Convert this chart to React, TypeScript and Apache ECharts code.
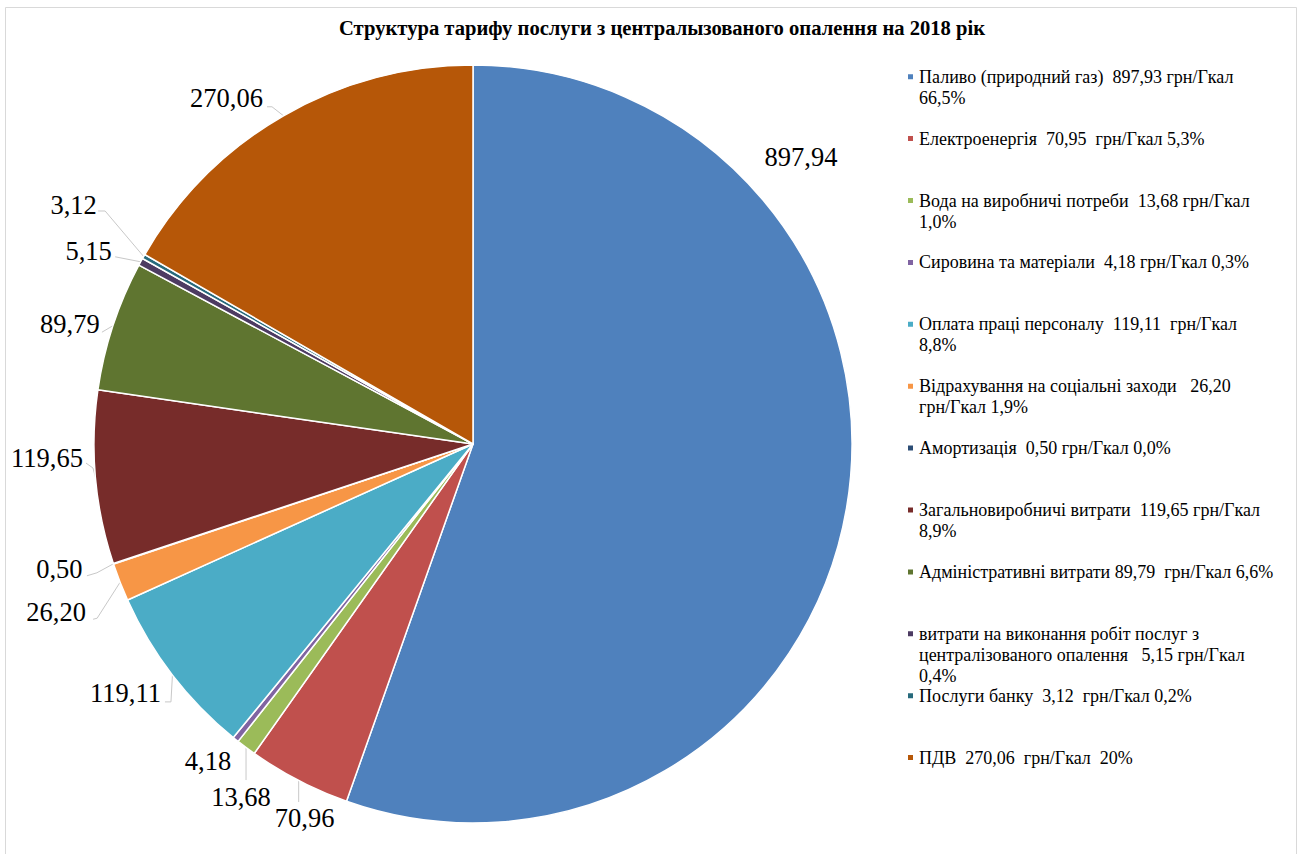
import React, { useEffect, useRef } from 'react';
import * as echarts from 'echarts';

const title = 'Структура тарифу послуги з централызованого опалення на 2018 рік';

const categories = [
  'Паливо (природний газ)',
  'Електроенергія',
  'Вода на виробничі потреби',
  'Сировина та матеріали',
  'Оплата праці персоналу',
  'Відрахування на соціальні заходи',
  'Амортизація',
  'Загальновиробничі витрати',
  'Адміністративні витрати',
  'витрати на виконання робіт послуг з централізованого опалення',
  'Послуги банку',
  'ПДВ',
];

const values = [897.94, 70.96, 13.68, 4.18, 119.11, 26.2, 0.5, 119.65, 89.79, 5.15, 3.12, 270.06];

const legendLabels = [
  'Паливо (природний газ)  897,93 грн/Гкал\n66,5%',
  'Електроенергія  70,95  грн/Гкал 5,3%',
  'Вода на виробничі потреби  13,68 грн/Гкал\n1,0%',
  'Сировина та матеріали  4,18 грн/Гкал 0,3%',
  'Оплата праці персоналу  119,11  грн/Гкал\n8,8%',
  'Відрахування на соціальні заходи   26,20\nгрн/Гкал 1,9%',
  'Амортизація  0,50 грн/Гкал 0,0%',
  'Загальновиробничі витрати  119,65 грн/Гкал\n8,9%',
  'Адміністративні витрати 89,79  грн/Гкал 6,6%',
  'витрати на виконання робіт послуг з\nцентралізованого опалення   5,15 грн/Гкал\n0,4%',
  'Послуги банку  3,12  грн/Гкал 0,2%',
  'ПДВ  270,06  грн/Гкал  20%',
];

const colors = [
  '#4F81BD', '#C0504D', '#9BBB59', '#8064A2', '#4BACC6', '#F79646',
  '#2C4D75', '#772C2A', '#5F7530', '#4D3B62', '#276A7C', '#B65708',
];

// label placement tweaks relative to the slice's outer mid point (styling only)
const labelTweaks: { dx: number; dy: number; line: number[][] }[] = [
  { dx: -45.5, dy: -351, line: [] },
  { dx: 6, dy: 37.5, line: [[-6, -16]] },
  { dx: -5, dy: 49.5, line: [[5, -17]] },
  { dx: -27.7, dy: 21.5, line: [] },
  { dx: -47, dy: 18, line: [[45.5, 9], [39.5, 9]] },
  { dx: -64, dy: 30, line: [[41, 6], [37, 7]] },
  { dx: -54, dy: 5, line: [[37.5, 4], [27.5, 7]] },
  { dx: -48.5, dy: -20, line: [[46, 10.5], [39, 5.5]] },
  { dx: -43, dy: -1.5, line: [[32, 8]] },
  { dx: -52, dy: -11, line: [[26.5, 6]] },
  { dx: -70, dy: -51, line: [[31.5, 5.5], [24.5, 5.5]] },
  { dx: -57, dy: -18, line: [[45.5, 9], [40.5, 9]] },
];

const SERIF = '"Liberation Serif", "Times New Roman", serif';
const LH = 21;
const legendFirst = 76.7;
const legendStep = 61.9;

export default function App() {
  const ref = useRef<HTMLDivElement>(null);
  useEffect(() => {
    const chart = echarts.init(ref.current!, null, { renderer: 'svg' });
    const legends = categories.map((name, i) => {
      const n = legendLabels[i].split('\n').length;
      // leading blank lines keep the first text line level with the marker
      const shown = '\n'.repeat(n - 1) + legendLabels[i];
      return {
        data: [name],
        orient: 'vertical',
        left: 906,
        top: legendFirst + legendStep * i - (n - 0.5) * LH,
        padding: 0,
        itemWidth: 7,
        itemHeight: 7,
        icon: 'rect',
        selectedMode: false,
        formatter: () => shown,
        textStyle: {
          fontFamily: SERIF,
          fontSize: 18,
          lineHeight: LH,
          color: '#000',
        },
      };
    });
    chart.setOption({
      animation: false,
      backgroundColor: '#fff',
      color: colors,
      title: {
        text: title,
        left: 334,
        top: 12,
        textStyle: { fontFamily: SERIF, fontSize: 20.6, fontWeight: 'bold', color: '#000' },
      },
      legend: legends,
      graphic: [
        {
          type: 'rect',
          silent: true,
          z: -10,
          shape: { x: 5.5, y: 7.5, width: 1291, height: 900 },
          style: { fill: 'none', stroke: '#d9d9d9', lineWidth: 1 },
        },
      ],
      series: [
        {
          type: 'pie',
          center: [473, 444],
          radius: 379,
          startAngle: 90,
          clockwise: true,
          avoidLabelOverlap: false,
          silent: true,
          itemStyle: { borderColor: '#fff', borderWidth: 1.5 },
          label: {
            show: true,
            position: 'outside',
            fontFamily: SERIF,
            fontSize: 26.5,
            color: '#000',
            formatter: (p: any) => p.value.toFixed(2).replace('.', ','),
          },
          labelLine: {
            show: true,
            length: 10,
            length2: 10,
            lineStyle: { color: '#c8c8c8', width: 1 },
          },
          labelLayout: (params: any) => {
            const i = params.dataIndex;
            const pts = params.labelLinePoints;
            const edge = pts ? pts[0] : [0, 0];
            const t = labelTweaks[i];
            const x = edge[0] + t.dx;
            const y = edge[1] + t.dy;
            const line = [[edge[0], edge[1]], ...t.line.map(([a, b]) => [x + a, y + b])];
            if (t.line.length === 0) line.push([edge[0], edge[1]]);
            return { x, y, align: 'center', verticalAlign: 'middle', labelLinePoints: line };
          },
          data: categories.map((name, i) => ({ name, value: values[i] })),
        },
      ],
    });
    return () => chart.dispose();
  }, []);
  return (
    <div
      ref={ref}
      style={{ position: 'fixed', left: 0, top: 0, width: 1306, height: 854, background: '#fff' }}
    />
  );
}
